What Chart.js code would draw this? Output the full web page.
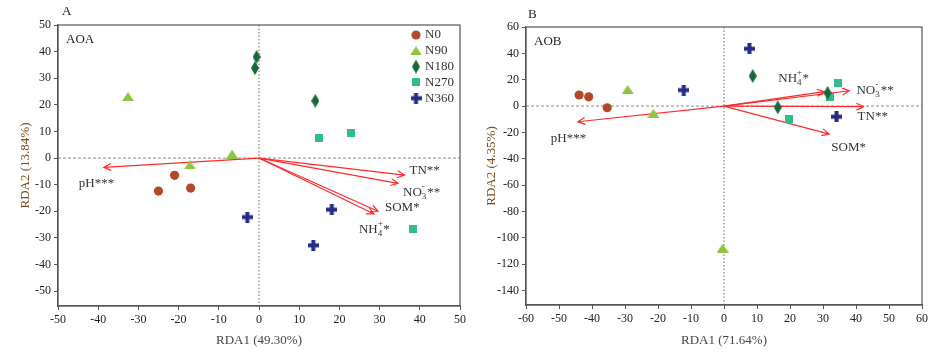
<!DOCTYPE html>
<html lang="en">
<head>
<meta charset="UTF-8">
<title>RDA AOA / AOB</title>
<script src="https://cdn.jsdelivr.net/npm/chart.js@4.4.0/dist/chart.umd.min.js"></script>
<style>
  html, body { margin: 0; padding: 0; background: #fff; }
  #wrap { position: relative; width: 941px; height: 354px; }
  .panel { position: absolute; top: 0; height: 354px; }
</style>
</head>
<body>
<div id="wrap">
  <div class="panel" style="left:0;width:470px"><canvas id="cA" width="470" height="354"></canvas></div>
  <div class="panel" style="left:470px;width:471px"><canvas id="cB" width="471" height="354"></canvas></div>
</div>
<script>
// ---- data ----
const groups = ['N0', 'N90', 'N180', 'N270', 'N360'];

// panel A (AOA) site scores
const aoaN0   = [[-25, -12.4], [-21, -6.5], [-17, -11.3]];
const aoaN90  = [[-32.6, 23.1], [-17.2, -2.6], [-6.7, 1.5]];
const aoaN180 = [[-0.6, 38], [-1, 33.8], [14, 21.5]];
const aoaN270 = [[15, 7.4], [23, 9.3], [38.3, -26.8]];
const aoaN360 = [[-2.9, -22.2], [18.1, -19.4], [13.5, -32.8]];
// panel A environmental arrows
const aoaEnv  = ['pH***', 'TN**', 'NO3-**', 'SOM*', 'NH4+*'];
const aoaEnvX = [-38.6, 36.2, 34.6, 29.6, 28.6];
const aoaEnvY = [-3.5, -6.4, -9.5, -20.0, -21.0];

// panel B (AOB) site scores
const aobN0   = [[-43.9, 8.4], [-41, 7], [-35.4, -1.3]];
const aobN90  = [[-29.2, 12.6], [-21.4, -5.6], [-0.4, -107.8]];
const aobN180 = [[8.7, 22.8], [31.4, 10], [16.3, -1]];
const aobN270 = [[34.6, 17.7], [32, 6.6], [19.8, -9.9]];
const aobN360 = [[7.7, 43.5], [-12.2, 12.1], [34.1, -8.1]];
// panel B environmental arrows
const aobEnv  = ['pH***', 'NH4+*', 'NO3-**', 'TN**', 'SOM*'];
const aobEnvX = [-44.3, 30.4, 38, 42.3, 31.9];
const aobEnvY = [-11.9, 10.9, 11.6, -0.5, -21.3];

// tick labels
const aoaXTicks = [-50, -40, -30, -20, -10, 0, 10, 20, 30, 40, 50];
const aoaYTicks = [-50, -40, -30, -20, -10, 0, 10, 20, 30, 40, 50];
const aobXTicks = [-60, -50, -40, -30, -20, -10, 0, 10, 20, 30, 40, 50, 60];
const aobYTicks = [-140, -120, -100, -80, -60, -40, -20, 0, 20, 40, 60];

// ---- styling ----
const colors = ['#b5482b', '#8cc63e', '#17693a', '#30bd8e', '#262c86'];
const serif = "'Liberation Serif', 'Times New Roman', serif";
const textCol = '#333';
const arrowCol = '#ff2a2a';

function shape(w, h, color, draw) {
  const c = document.createElement('canvas');
  c.width = w; c.height = h;
  const g = c.getContext('2d');
  g.fillStyle = color;
  draw(g, w, h);
  return c;
}
const triangle = col => shape(12, 9, col, (g, w, h) => {
  g.beginPath(); g.moveTo(w / 2, 0); g.lineTo(w, h); g.lineTo(0, h); g.closePath(); g.fill();
});
const diamond = col => shape(8, 14, col, (g, w, h) => {
  g.beginPath(); g.moveTo(w / 2, 0); g.lineTo(w, h / 2); g.lineTo(w / 2, h); g.lineTo(0, h / 2); g.closePath(); g.fill();
});
const square = col => shape(8, 8, col, (g, w, h) => g.fillRect(0, 0, w, h));
const plus = col => shape(11, 11, col, (g, w, h) => {
  g.fillRect(0, 3.5, w, 4); g.fillRect(3.5, 0, 4, h);
});
const markers = [
  'circle',
  triangle(colors[1]),
  diamond(colors[2]),
  square(colors[3]),
  plus(colors[4])
];

function toPts(arr) { return arr.map(p => ({ x: p[0], y: p[1] })); }

function makeDatasets(series) {
  return series.map((s, i) => ({
    label: groups[i],
    data: toPts(s),
    pointStyle: markers[i],
    pointRadius: i === 0 ? 4.6 : 6,
    backgroundColor: colors[i],
    borderColor: colors[i],
    borderWidth: 0,
    showLine: false
  }));
}

// draws text with sub/superscript for NO3- and NH4+
function drawLabel(g, name, x, y) {
  g.font = '13px ' + serif;
  g.fillStyle = textCol;
  g.textBaseline = 'middle';
  g.textAlign = 'left';
  const m = name.match(/^(NO|NH)(\d)([+-])(\**)$/);
  if (!m) { g.fillText(name, x, y); return; }
  g.fillText(m[1], x, y);
  let cx = x + g.measureText(m[1]).width;
  g.font = '9px ' + serif;
  g.fillText(m[2], cx, y + 4);
  g.fillText(m[3], cx, y - 6);
  cx += g.measureText(m[2]).width + 1;
  g.font = '13px ' + serif;
  g.fillText(m[4], cx, y);
}

function arrow(g, x0, y0, x1, y1) {
  const a = Math.atan2(y1 - y0, x1 - x0);
  const L = 8, s = 0.45;
  g.beginPath();
  g.moveTo(x0, y0); g.lineTo(x1, y1);
  g.moveTo(x1 - L * Math.cos(a - s), y1 - L * Math.sin(a - s));
  g.lineTo(x1, y1);
  g.lineTo(x1 - L * Math.cos(a + s), y1 - L * Math.sin(a + s));
  g.stroke();
}

const rdaPlugin = {
  id: 'rda',
  beforeDatasetsDraw(chart, args, o) {
    const g = chart.ctx, a = chart.chartArea;
    const xs = chart.scales.x, ys = chart.scales.y;
    const x0 = xs.getPixelForValue(0), y0 = ys.getPixelForValue(0);
    g.save();
    // zero lines
    g.strokeStyle = '#8a8a8a'; g.lineWidth = 1;
    g.setLineDash([3, 2]);
    g.beginPath(); g.moveTo(a.left, y0); g.lineTo(a.right, y0); g.stroke();
    g.strokeStyle = '#666';
    g.setLineDash([1.5, 2]);
    g.beginPath(); g.moveTo(x0, a.top); g.lineTo(x0, a.bottom); g.stroke();
    g.setLineDash([]);
    // frame
    g.strokeStyle = '#555'; g.lineWidth = 1.2;
    g.strokeRect(a.left, a.top, a.right - a.left, a.bottom - a.top);
    // arrows + labels
    g.strokeStyle = arrowCol; g.lineWidth = 1.2;
    o.env.forEach((name, i) => {
      const px = xs.getPixelForValue(o.ex[i]), py = ys.getPixelForValue(o.ey[i]);
      arrow(g, x0, y0, px, py);
      drawLabel(g, name, px + o.off[i][0], py + o.off[i][1]);
    });
    // panel letter and title
    g.fillStyle = '#222'; g.textBaseline = 'middle'; g.textAlign = 'left';
    g.font = '13px ' + serif;
    g.fillText(o.letter, o.letterPos[0], o.letterPos[1]);
    g.fillText(o.title, a.left + 8, a.top + 15);
    // legend
    if (o.legend) {
      const lx = a.right - 44;
      chart.data.datasets.forEach((ds, i) => {
        const ly = a.top + 10 + i * 15.8;
        const st = ds.pointStyle;
        if (st === 'circle') {
          g.fillStyle = ds.backgroundColor;
          g.beginPath(); g.arc(lx, ly, 4.6, 0, Math.PI * 2); g.fill();
        } else {
          g.drawImage(st, lx - st.width / 2, ly - st.height / 2);
        }
        g.fillStyle = textCol; g.font = '13px ' + serif;
        g.fillText(ds.label, lx + 9, ly);
      });
    }
    g.restore();
  }
};

function axis(ticks, min, max, title, size, titlePad, isY) {
  return {
    type: 'linear', min: min, max: max,
    afterBuildTicks: s => { s.ticks = ticks.map(v => ({ value: v })); },
    afterFit: s => { if (isY) s.width = size; else s.height = size; },
    grid: { drawOnChartArea: false, drawTicks: true, tickLength: 4, color: '#555' },
    border: { display: true, color: '#555', width: 1.2 },
    ticks: { font: { family: serif, size: 12 }, color: '#222', padding: 3 },
    title: {
      display: true, text: title, color: isY ? '#7a4a1a' : '#444',
      font: { family: serif, size: 13 },
      padding: isY ? { top: titlePad, bottom: 0 } : { top: 0, bottom: titlePad }
    }
  };
}

function makeChart(id, series, env, ex, ey, off, opts) {
  return new Chart(document.getElementById(id), {
    type: 'scatter',
    data: { datasets: makeDatasets(series) },
    options: {
      responsive: false, animation: false,
      layout: { padding: opts.pad },
      plugins: {
        legend: { display: false }, tooltip: { enabled: false },
        rda: Object.assign({ env: env, ex: ex, ey: ey, off: off }, opts.extra)
      },
      scales: {
        x: axis(opts.xt, opts.xr[0], opts.xr[1], opts.xTitle, opts.xh, 6, false),
        y: axis(opts.yt, opts.yr[0], opts.yr[1], opts.yTitle, opts.yw, opts.ytp, true)
      }
    },
    plugins: [rdaPlugin]
  });
}

makeChart('cA', [aoaN0, aoaN90, aoaN180, aoaN270, aoaN360], aoaEnv, aoaEnvX, aoaEnvY,
  [[-25, 16], [5, -5], [5, 9], [7, -4], [-15, 16]],
  {
    pad: { left: 0, top: 25, right: 10, bottom: 0 },
    xt: aoaXTicks, yt: aoaYTicks, xr: [-50, 50], yr: [-55.6, 50],
    xTitle: 'RDA1 (49.30%)', yTitle: 'RDA2 (13.84%)', xh: 48, yw: 58, ytp: 18,
    extra: { letter: 'A', letterPos: [62, 12], title: 'AOA', legend: true }
  });

makeChart('cB', [aobN0, aobN90, aobN180, aobN270, aobN360], aobEnv, aobEnvX, aobEnvY,
  [[-27, 17], [-46, -13], [7, 0], [-6, 10], [2, 13]],
  {
    pad: { left: 0, top: 27, right: 19, bottom: 0 },
    xt: aobXTicks, yt: aobYTicks, xr: [-60, 60], yr: [-151, 60],
    xTitle: 'RDA1 (71.64%)', yTitle: 'RDA2 (4.35%)', xh: 49, yw: 56, ytp: 14,
    extra: { letter: 'B', letterPos: [58, 15], title: 'AOB', legend: false }
  });
</script>
</body>
</html>
